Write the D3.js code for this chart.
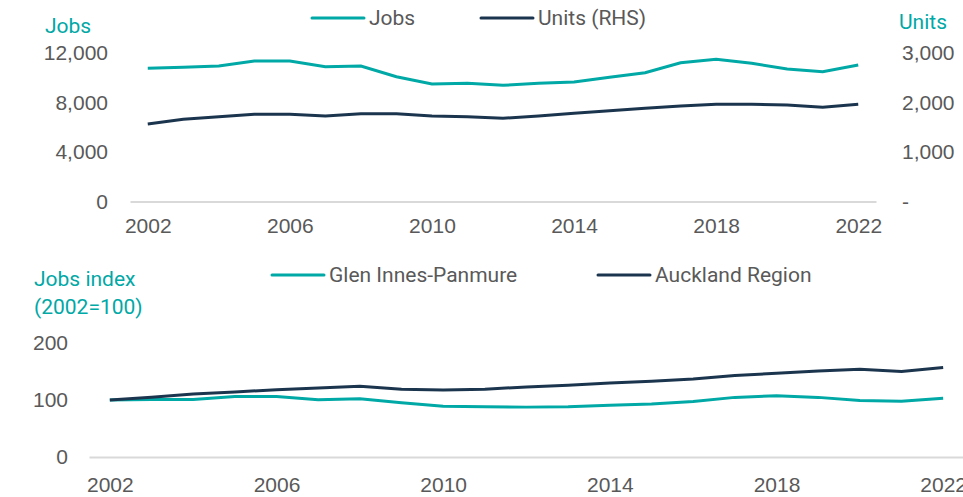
<!DOCTYPE html>
<meta charset="utf-8">
<style>
body { margin: 0; background: #fff; }
svg { font-family: Roboto, "Noto Sans", sans-serif; }
.tick text { fill: #595959; font-size: 21px; }
.lab { font-size: 21px; }
</style>
<body>
<script src="https://cdn.jsdelivr.net/npm/d3@7"></script>
<script>

// data
var years = d3.range(2002, 2023);
var jobs = [10760, 10840, 10950, 11350, 11350, 10890, 10950, 10085, 9495, 9550, 9390,
            9550, 9657, 10035, 10410, 11215, 11490, 11170, 10707, 10490, 11030];
var units = [1566, 1660, 1713, 1761, 1761, 1727, 1774, 1774, 1727, 1713, 1681,
             1727, 1782, 1835, 1883, 1929, 1964, 1964, 1950, 1903, 1964];
var glenIdx = [100, 101, 101, 106, 106, 100.5, 102, 95, 89, 88, 87.5,
               88, 91, 93, 97.5, 104.6, 107.5, 104.6, 99, 98, 103];
var aklIdx = [100, 105, 110.5, 114, 118, 121, 124, 119, 117.5, 119, 123,
              126, 130, 133, 137, 143, 147, 151, 154, 150, 157];
var yearTicks = [2002, 2006, 2010, 2014, 2018, 2022];
var jobsTicks = [0, 4000, 8000, 12000];
var unitsTicks = [0, 1000, 2000, 3000];
var idxTicks = [0, 100, 200];

var teal = "#00A8A6", navy = "#1C354E", grey = "#595959";

var svg = d3.select("body").append("svg")
    .attr("width", 963)
    .attr("height", 497);

function baseAxis(g) {
  g.select(".domain").attr("stroke", "#d9d9d9").attr("stroke-width", 2);
  g.selectAll(".tick line").remove();
}

// ---- top chart
var x1 = d3.scalePoint().domain(years).range([130, 876]).padding(0.5);
var yJ = d3.scaleLinear().domain([0, 12000]).range([201.5, 53]);
var yU = d3.scaleLinear().domain([0, 3000]).range([201.5, 53]);

svg.append("g")
    .attr("transform", "translate(0,201.5)")
    .call(d3.axisBottom(x1).tickValues(yearTicks).tickSize(0).tickPadding(17).tickSizeOuter(0))
    .call(baseAxis);

svg.append("g")
    .attr("transform", "translate(108,0)")
    .call(d3.axisLeft(yJ).tickValues(jobsTicks).tickFormat(d3.format(",")).tickSize(0).tickPadding(0))
    .call(function(g) { g.select(".domain").remove(); });

svg.append("g")
    .attr("transform", "translate(902,0)")
    .call(d3.axisRight(yU).tickValues(unitsTicks)
      .tickFormat(function(d) { return d === 0 ? "-" : d3.format(",")(d); })
      .tickSize(0).tickPadding(0))
    .call(function(g) { g.select(".domain").remove(); });

svg.append("path")
    .datum(units)
    .attr("fill", "none").attr("stroke", navy).attr("stroke-width", 3)
    .attr("d", d3.line().x(function(d, i) { return x1(years[i]); }).y(function(d) { return yU(d); }));

svg.append("path")
    .datum(jobs)
    .attr("fill", "none").attr("stroke", teal).attr("stroke-width", 3)
    .attr("d", d3.line().x(function(d, i) { return x1(years[i]); }).y(function(d) { return yJ(d); }));

svg.append("text").attr("class", "lab").attr("x", 45).attr("y", 33).attr("fill", teal).text("Jobs");
svg.append("text").attr("class", "lab").attr("x", 899).attr("y", 29).attr("fill", teal).text("Units");

// ---- bottom chart
var x2 = d3.scalePoint().domain(years).range([89, 964]).padding(0.5);
var yI = d3.scaleLinear().domain([0, 200]).range([457, 343]);

svg.append("g")
    .attr("transform", "translate(0,457)")
    .call(d3.axisBottom(x2).tickValues(yearTicks).tickSize(0).tickPadding(20).tickSizeOuter(0))
    .call(baseAxis);

svg.append("g")
    .attr("transform", "translate(68,0)")
    .call(d3.axisLeft(yI).tickValues(idxTicks).tickSize(0).tickPadding(0))
    .call(function(g) { g.select(".domain").remove(); });

svg.append("path")
    .datum(glenIdx)
    .attr("fill", "none").attr("stroke", teal).attr("stroke-width", 3)
    .attr("d", d3.line().x(function(d, i) { return x2(years[i]); }).y(function(d) { return yI(d); }));

svg.append("path")
    .datum(aklIdx)
    .attr("fill", "none").attr("stroke", navy).attr("stroke-width", 3)
    .attr("d", d3.line().x(function(d, i) { return x2(years[i]); }).y(function(d) { return yI(d); }));

svg.append("text").attr("class", "lab").attr("x", 34).attr("y", 286).attr("fill", teal).text("Jobs index");
svg.append("text").attr("class", "lab").attr("x", 34).attr("y", 314).attr("fill", teal).text("(2002=100)");

// ---- legends
var legends = [
  {x: 312, y: 18, color: teal, label: "Jobs"},
  {x: 481, y: 18, color: navy, label: "Units (RHS)"},
  {x: 272, y: 275, color: teal, label: "Glen Innes-Panmure"},
  {x: 598, y: 275, color: navy, label: "Auckland Region"}
];
var lg = svg.selectAll(".lg").data(legends).enter().append("g")
    .attr("transform", function(d) { return "translate(" + d.x + "," + d.y + ")"; });
lg.append("line").attr("x1", 0).attr("x2", 52)
    .attr("stroke", function(d) { return d.color; }).attr("stroke-width", 3).attr("stroke-linecap", "round");
lg.append("text").attr("class", "lab").attr("x", 57).attr("dy", "0.35em")
    .attr("fill", grey).text(function(d) { return d.label; });

</script>
</body>
